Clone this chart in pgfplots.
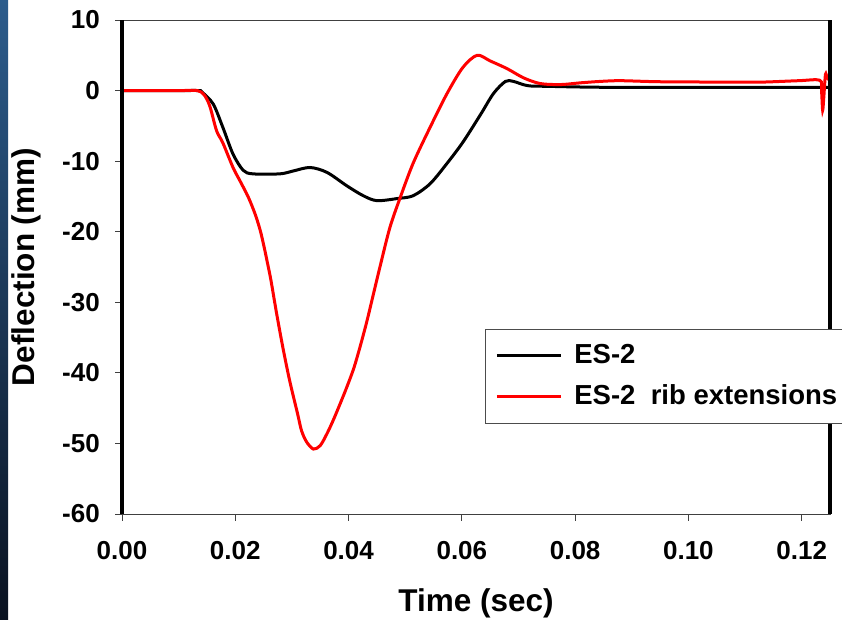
\documentclass[border=0pt]{standalone}
\usepackage{fontspec}
\setmainfont{Liberation Sans}
\usepackage{pgfplots}
\pgfplotsset{compat=1.18}
\begin{document}
\begin{tikzpicture}[x=1pt,y=1pt]
\shade[top color={rgb,255:red,44;green,92;blue,140}, bottom color={rgb,255:red,10;green,18;blue,32}] (0,0) rectangle (8,620);
\begin{axis}[
  at={(122pt,106pt)}, anchor=south west,
  scale only axis, width=708pt, height=494pt,
  xmin=0, xmax=0.125, ymin=-60, ymax=10,
  clip=false,
  xtick={0,0.02,0.04,0.06,0.08,0.1,0.12},
  ytick={-60,-50,-40,-30,-20,-10,0,10},
  scaled x ticks=false,
  /pgf/number format/assume math mode=true,
  tick align=outside, major tick length=7pt,
  xtick pos=lower, ytick pos=left,
  tick style={line width=0.8pt, black!75},
  axis line style={line width=0.8pt, black!75},
  ticklabel style={font=\fontsize{26}{30}\selectfont\bfseries},
  yticklabel style={anchor=east, inner sep=0pt, xshift=-15pt},
  xticklabel style={anchor=north, inner sep=0pt, yshift=-20pt,
    /pgf/number format/fixed, /pgf/number format/fixed zerofill, /pgf/number format/precision=2},
  every axis y label/.style={at={(axis description cs:-0.1356,0.5)}, rotate=90, anchor=center, font=\fontsize{31.5}{35}\selectfont\bfseries},
  every axis x label/.style={at={(axis description cs:0.5,-0.1802)}, anchor=center, font=\fontsize{31.5}{35}\selectfont\bfseries},
  xlabel={Time (sec)},
  ylabel={Deflection (mm)},
  legend style={at={(axis description cs:0.5127,0.3745)}, anchor=north west,
    draw=black!70, line width=0.8pt, fill=white,
    font=\fontsize{27.5}{31}\selectfont\bfseries,
    inner xsep=10pt, inner ysep=11pt, row sep=10pt, column sep=9pt,
    nodes={inner sep=3pt, text height=20pt, text depth=5pt}},
  legend cell align=left,
  legend image code/.code={\draw[#1, line width=3pt] (0pt,0pt) -- (64pt,0pt);},
]
\addplot[black, line width=3pt, smooth, tension=0.5] coordinates {
(0,0) (0.010,0) (0.0135,0) (0.0141,-0.2) (0.0161,-1.9) (0.0178,-5.2) (0.0196,-9.0)
(0.0214,-11.3) (0.0231,-11.8) (0.0279,-11.8) (0.0302,-11.4) (0.0332,-10.9)
(0.0362,-11.6) (0.0397,-13.5) (0.0426,-14.9) (0.0450,-15.6) (0.0486,-15.3)
(0.0514,-14.9) (0.0544,-13.2) (0.0574,-10.3) (0.0602,-7.3) (0.0633,-3.4)
(0.0656,-0.4) (0.0677,1.3) (0.0691,1.3) (0.0716,0.7) (0.0751,0.6) (0.088,0.45) (0.125,0.45)
};
\addlegendentry{ES-2}
\addplot[red, line width=3pt, smooth, tension=0.5] coordinates {
(0,0) (0.010,0) (0.0133,0) (0.0145,-0.6) (0.0155,-2.2) (0.0167,-5.7) (0.0178,-7.4)
(0.0196,-10.9) (0.0208,-12.75) (0.0223,-15.1) (0.0235,-17.5) (0.0244,-19.8)
(0.0251,-22.2) (0.0257,-24.5) (0.0263,-26.9) (0.0273,-31.6) (0.0284,-36.4)
(0.0296,-41.1) (0.0310,-45.8) (0.0317,-48.2) (0.0326,-49.8) (0.0338,-50.8)
(0.0350,-50.3) (0.0362,-48.6) (0.0373,-46.7) (0.0385,-44.4) (0.0397,-42.0)
(0.0409,-39.4) (0.0420,-36.4) (0.0432,-32.8) (0.0444,-28.8) (0.0456,-24.8)
(0.0473,-19.4) (0.0491,-15.2) (0.0514,-10.3) (0.0544,-5.2) (0.0574,-0.4)
(0.0602,3.3) (0.0627,5.0) (0.0650,4.2) (0.0680,3.1) (0.0709,1.8) (0.0738,1.0)
(0.0774,0.85) (0.0810,1.1) (0.0845,1.3) (0.0880,1.4) (0.095,1.25) (0.107,1.2)
(0.113,1.2) (0.1195,1.4) (0.1232,1.46) (0.1235,0) (0.1237,-2.8) (0.1239,-1)
(0.1242,2.3) (0.1245,1.8) (0.1250,1.4)
};
\addlegendentry{ES-2~~rib extensions}
\draw[line width=3.2pt] (rel axis cs:0,0) -- (rel axis cs:0,1);
\draw[line width=3.2pt] (rel axis cs:1,0) -- (rel axis cs:1,1);
\end{axis}
\pgfresetboundingbox
\useasboundingbox (0,0) rectangle (842,620);
\end{tikzpicture}
\end{document}
